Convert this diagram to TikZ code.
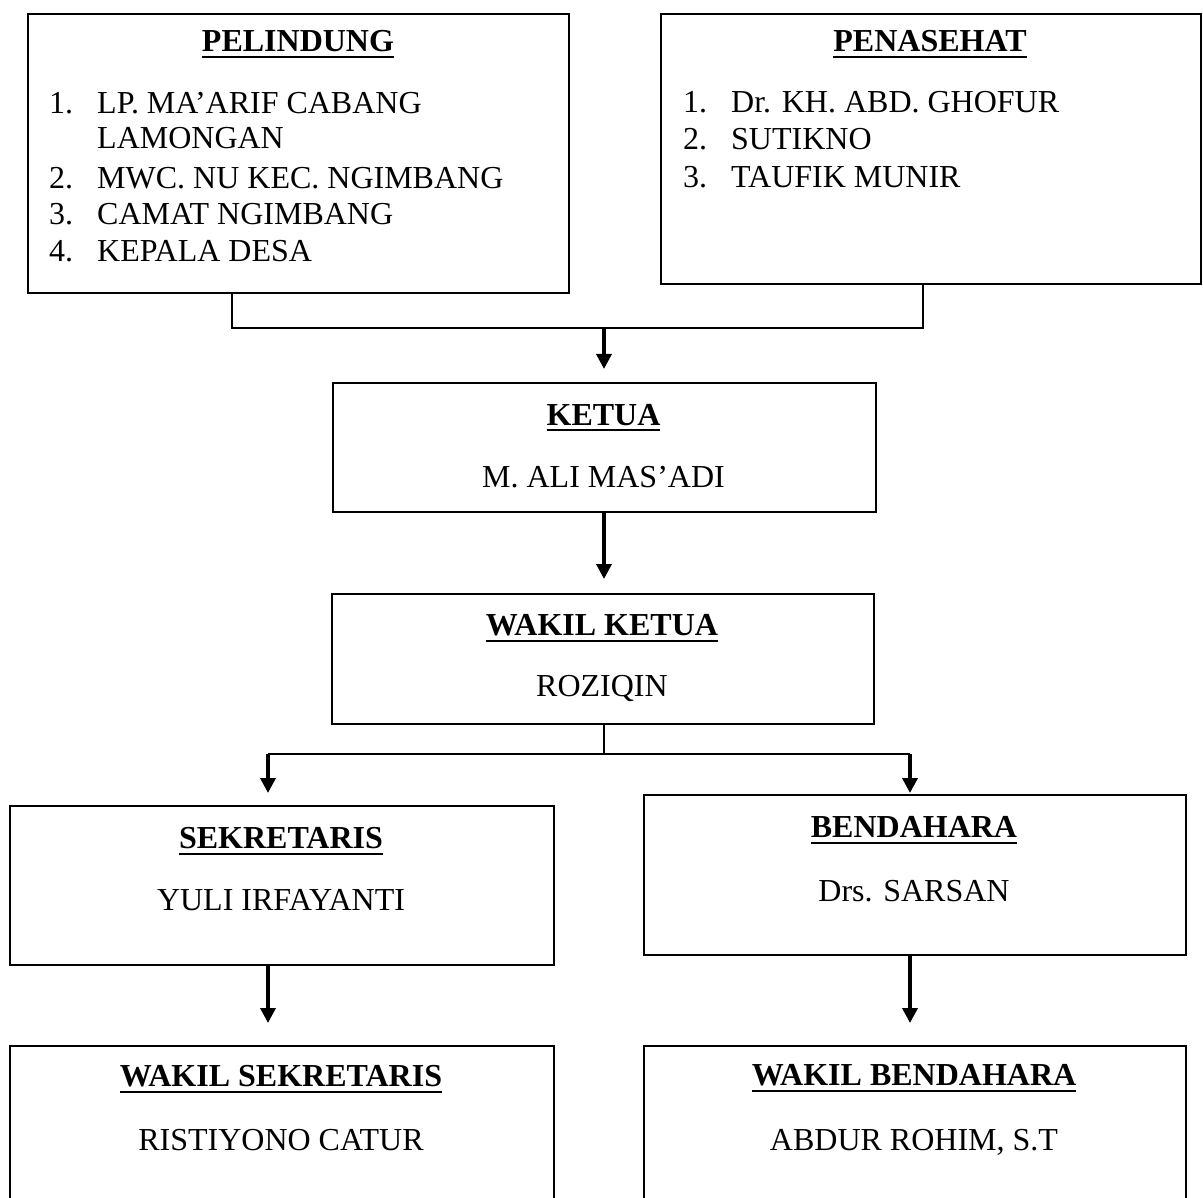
\documentclass[tikz,border=0pt]{standalone}
\usepackage{fontspec}
\setmainfont{Liberation Serif}
\usetikzlibrary{arrows.meta}
\newcommand\myul[1]{\setbox0\hbox{#1}\leavevmode\rlap{\rule[-6.5pt]{\wd0}{2pt}}\box0}
\begin{document}
\begin{tikzpicture}[x=1pt,y=-1pt,
  box/.style={draw, line width=2pt, inner sep=0pt, anchor=north west},
  ttl/.style={anchor=base, inner sep=0pt, font=\fontsize{32}{37}\selectfont\bfseries},
  txt/.style={anchor=base, inner sep=0pt, font=\fontsize{32}{37}\selectfont},
  item/.style={anchor=base west, inner sep=0pt, font=\fontsize{32}{37}\selectfont},
  conn/.style={line width=1.8pt},
  thinconn/.style={line width=1.3pt},
  arr/.style={line width=3.5pt, -{Triangle[width=15pt,length=15pt]}},
]
\path[use as bounding box, clip] (0,0) rectangle (1203,1198);

% boxes
\node[box, minimum width=541pt, minimum height=279pt] (pel) at (27,13) {};
\node[box, minimum width=540pt, minimum height=270pt] (pen) at (660,13) {};
\node[box, minimum width=543pt, minimum height=129pt] (ket) at (332,382) {};
\node[box, minimum width=542pt, minimum height=130pt] (wket) at (331,593) {};
\node[box, minimum width=544pt, minimum height=159pt] (sek) at (9,805) {};
\node[box, minimum width=542pt, minimum height=160pt] (ben) at (643,794) {};
\node[box, minimum width=544pt, minimum height=180pt] (wsek) at (9,1045) {};
\node[box, minimum width=542pt, minimum height=180pt] (wben) at (643,1045) {};

% PELINDUNG
\node[ttl] (pelT) at (298,52) {\myul{PELINDUNG}};
\node[item] (pel1n) at (49,114) {1.};
\node[item] (pel1) at (97,114) {LP. MA’ARIF CABANG};
\node[item] (pel1b) at (97,149) {LAMONGAN};
\node[item] (pel2n) at (49,189) {2.};
\node[item] (pel2) at (97,189) {MWC. NU KEC. NGIMBANG};
\node[item] (pel3n) at (49,225) {3.};
\node[item] (pel3) at (97,225) {CAMAT NGIMBANG};
\node[item] (pel4n) at (49,262) {4.};
\node[item] (pel4) at (97,262) {KEPALA DESA};

% PENASEHAT
\node[ttl] (penT) at (930,52) {\myul{PENASEHAT}};
\node[item] (pen1n) at (683,113) {1.};
\node[item] (pen1) at (731,113) {Dr. KH. ABD. GHOFUR};
\node[item] (pen2n) at (683,150) {2.};
\node[item] (pen2) at (731,150) {SUTIKNO};
\node[item] (pen3n) at (683,188) {3.};
\node[item] (pen3) at (731,188) {TAUFIK MUNIR};

% others
\node[ttl] (ketT) at (603.5,425) {\myul{KETUA}};
\node[txt] (ketN) at (603.5,487) {M. ALI MAS’ADI};
\node[ttl] (wketT) at (602,635) {\myul{WAKIL KETUA}};
\node[txt] (wketN) at (602,696) {ROZIQIN};
\node[ttl] (sekT) at (281,848) {\myul{SEKRETARIS}};
\node[txt] (sekN) at (281,910) {YULI IRFAYANTI};
\node[ttl] (benT) at (914,837) {\myul{BENDAHARA}};
\node[txt] (benN) at (914,901) {Drs. SARSAN};
\node[ttl] (wsekT) at (281,1086) {\myul{WAKIL SEKRETARIS}};
\node[txt] (wsekN) at (281,1150) {RISTIYONO CATUR};
\node[ttl] (wbenT) at (914,1085) {\myul{WAKIL BENDAHARA}};
\node[txt] (wbenN) at (914,1150) {ABDUR ROHIM, S.T};

% junction coordinates
\coordinate (jl) at (232,328);
\coordinate (jr) at (923,328);
\coordinate (jm) at (604,328);
\coordinate (t1) at (604,369);
\coordinate (t2) at (604,579);
\coordinate (sm) at (604,754);
\coordinate (sl) at (268,754);
\coordinate (sr) at (910,754);
\coordinate (tl) at (268,793);
\coordinate (tr) at (910,793);
\coordinate (tl2) at (268,1023);
\coordinate (tr2) at (910,1023);

% connectors
\draw[conn] (pel.south -| jl) -- (jl) -- (jr) -- (pen.south -| jr);
\draw[arr] (jm) -- (t1);
\draw[arr] (ket.south -| t2) -- (t2);
\draw[thinconn] (wket.south -| sm) -- (sm);
\draw[conn] (sl) -- (sr);
\draw[arr] (sl) -- (tl);
\draw[arr] (sr) -- (tr);
\draw[arr] (sek.south -| tl2) -- (tl2);
\draw[arr] (ben.south -| tr2) -- (tr2);
\end{tikzpicture}
\end{document}
